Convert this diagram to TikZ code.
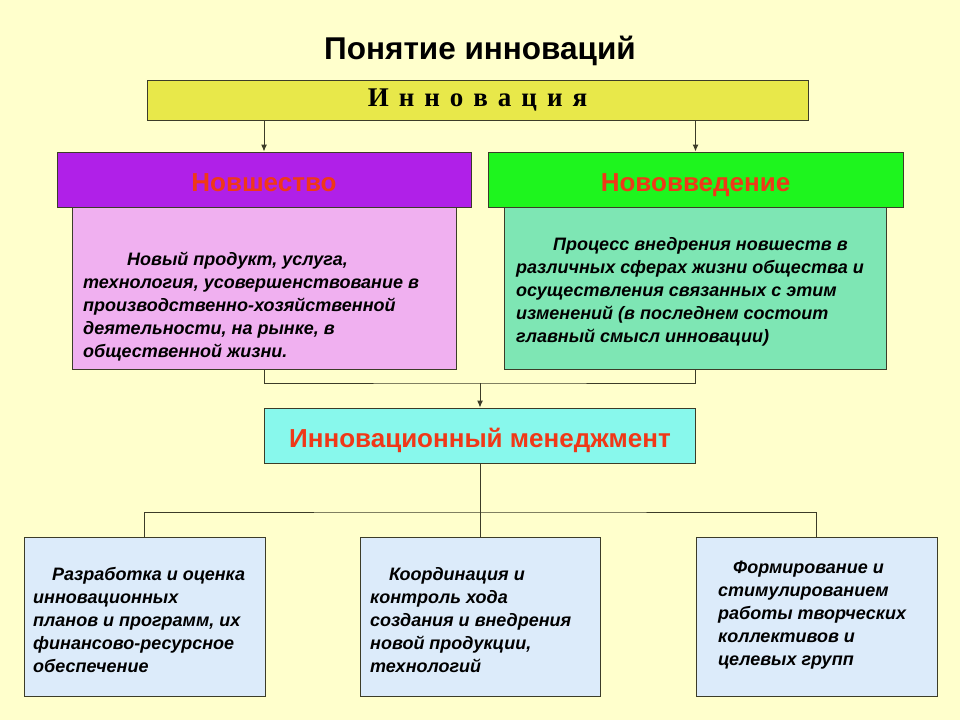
\documentclass[tikz,border=0pt]{standalone}
\usepackage{fontspec}
\setmainfont{Liberation Sans}
\newfontfamily\serifb{Liberation Serif}
\usetikzlibrary{positioning,arrows.meta}
\tikzset{>=latex}
\definecolor{bgyel}{RGB}{255,255,204}
\definecolor{innoyel}{RGB}{232,232,74}
\definecolor{novpur}{RGB}{176,32,232}
\definecolor{vvgreen}{RGB}{30,245,30}
\definecolor{novpink}{RGB}{240,176,240}
\definecolor{vvmint}{RGB}{126,230,180}
\definecolor{mencyan}{RGB}{136,248,236}
\definecolor{funcblue}{RGB}{220,235,250}
\definecolor{hdred}{RGB}{240,56,24}
\definecolor{edgegray}{RGB}{60,60,40}

\begin{document}
\begin{tikzpicture}[x=1pt,y=-1pt,
  box/.style={draw=edgegray,line width=1pt,rectangle,inner sep=0pt},
  head/.style={text=hdred,text height=26pt,text depth=2pt,font=\fontsize{26}{30}\selectfont\bfseries},
  body/.style={align=left,inner sep=0pt,anchor=north west,font=\fontsize{18}{23}\selectfont\bfseries\itshape},
  conn/.style={draw=edgegray,line width=1pt},
  arr/.style={conn,-{Latex[length=7pt,width=6pt]}}]
\fill[bgyel] (0,0) rectangle (960,720);
\useasboundingbox (0,0) rectangle (960,720);
\node (title) at (480,51) {\fontsize{31.5}{36}\selectfont\bfseries Понятие инноваций};
\node[box,fill=innoyel,minimum width=661pt,minimum height=40pt] (inno) at (477.5,100) {\serifb\fontsize{27}{30}\selectfont\bfseries И\hspace{10pt}н\hspace{10pt}н\hspace{10pt}о\hspace{10pt}в\hspace{10pt}а\hspace{10pt}ц\hspace{10pt}и\hspace{10pt}я};
\node[box,head,fill=novpur,minimum width=414pt,minimum height=55pt] (nov) at (264,179.5) {Новшество};
\node[box,head,fill=vvgreen,minimum width=415pt,minimum height=55pt] (vved) at (695.5,179.5) {Нововведение};
\node[box,fill=novpink,minimum width=384pt,minimum height=162pt] (novbox) at (264,288) {};
\node[box,fill=vvmint,minimum width=382pt,minimum height=162pt] (vvedbox) at (695,288) {};
\node[body] (novtxt) at (83,252) {\hspace*{44pt}Новый продукт, услуга,\\технология, усовершенствование в\\производственно-хозяйственной\\деятельности, на рынке, в\\общественной жизни.};
\node[body] (vvedtxt) at (516,237) {\hspace*{37pt}Процесс внедрения новшеств в\\различных сферах жизни общества и\\осуществления связанных с этим\\изменений (в последнем состоит\\главный смысл инновации)};
\node[box,head,fill=mencyan,minimum width=431pt,minimum height=55pt] (men) at (480,435.5) {Инновационный менеджмент};
\node[box,fill=funcblue,minimum width=241pt,minimum height=159pt] (plan) at (144.5,616.5) {};
\node[box,fill=funcblue,minimum width=240pt,minimum height=159pt] (ctrl) at (480,616.5) {};
\node[box,fill=funcblue,minimum width=241pt,minimum height=159pt] (team) at (816.5,616.5) {};
\node[body] (plantxt) at (33,567) {\hspace*{19pt}Разработка и оценка\\инновационных\\планов и программ, их\\финансово-ресурсное\\обеспечение};
\node[body] (ctrltxt) at (370,567) {\hspace*{19pt}Координация и\\контроль хода\\создания и внедрения\\новой продукции,\\технологий};
\node[body] (teamtxt) at (718,561) {\hspace*{15pt}Формирование и\\стимулированием\\работы творческих\\коллективов и\\целевых групп};
% connectors
\coordinate (join) at (480,383);
\coordinate (split) at (480,512);
\draw[arr] (nov.north |- inno.south) -- (nov.north);
\draw[arr] (vved.north |- inno.south) -- (vved.north);
\draw[conn] (novbox.south) |- (join) -| (vvedbox.south);
\draw[arr] (join) -- (men.north);
\draw[conn] (men.south) -- (split);
\draw[conn] (plan.north) |- (split) -| (team.north);
\draw[conn] (split) -- (ctrl.north);
\end{tikzpicture}
\end{document}
